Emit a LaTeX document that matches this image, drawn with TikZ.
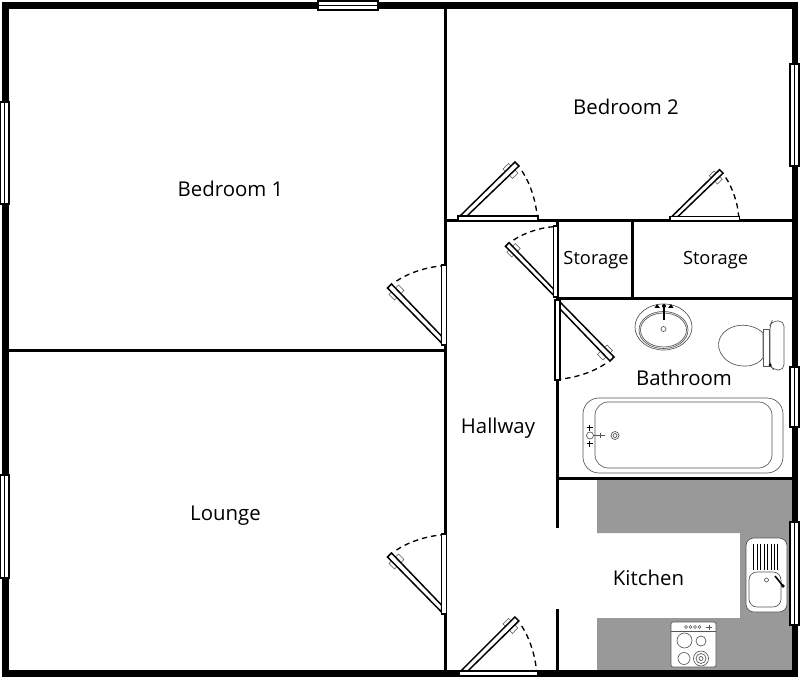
\documentclass[tikz,border=0pt]{standalone}
\usepackage{fontspec}
\setmainfont{Open Sans}
\definecolor{counter}{HTML}{999999}
\definecolor{fixture}{HTML}{555555}
\tikzset{
  x=0.75pt,y=-0.75pt,
  wall/.style={line width=2.25pt,line cap=rect},
  outerwall/.style={line width=5pt,line join=miter},
  windowbox/.style={draw=black,fill=white,line width=0.9pt},
  windowmid/.style={line width=0.6pt},
  doorpart/.style={draw=black,fill=white,line width=1.1pt},
  handle/.style={draw=fixture,fill=white,line width=0.4pt},
  swing/.style={line width=1pt,dash pattern=on 4pt off 3pt},
  fix/.style={draw=fixture,line width=0.5pt},
  fixw/.style={draw=fixture,fill=white,line width=0.5pt},
  room/.style={font=\fontsize{15.3pt}{18pt}\selectfont,inner sep=0pt,anchor=base},
  smallroom/.style={font=\fontsize{13.7pt}{17pt}\selectfont,inner sep=0pt,anchor=base},
}
% origin x, origin y, local x vector, local y vector (px)
\newcommand{\doorleaf}[6]{%
  \begin{scope}[shift={(#1,#2)},x={(#3*0.75pt,-#4*0.75pt)},y={(#5*0.75pt,-#6*0.75pt)}]
    \draw[handle] (45,52)--(50.5,57.5)--(53.5,54.5)--(48,49)--cycle;
    \draw[handle] (51.5,45.5)--(57,51)--(60,48)--(54.5,42.5)--cycle;
    \draw[doorpart] (2,5)--(9,5)--(61,55)--(57,59)--cycle;
    \draw[doorpart] (0,0) rectangle (80,5);
    \draw[swing] (64,50) .. controls (72,38) and (78,20) .. (79,5);
  \end{scope}}
\newcommand{\hwin}[3]{\draw[windowbox] (#1,#3) rectangle (#2,#3+9); \draw[windowmid] (#1,#3+4.5)--(#2,#3+4.5);}
\newcommand{\vwin}[3]{\draw[windowbox] (#3,#1) rectangle (#3+9,#2); \draw[windowmid] (#3+4.5,#1)--(#3+4.5,#2);}
\begin{document}
\begin{tikzpicture}
\useasboundingbox (0,0) rectangle (800,677);
\fill[white] (0,0) rectangle (800,677);
% kitchen worktop
\fill[counter] (597,480)--(792,480)--(792,670)--(597,670)--(597,618)--(740,618)--(740,533)--(597,533)--cycle;
% interior walls
\draw[wall] (445,8)--(445,670);
\draw[wall] (8,351)--(445,351);
\draw[wall] (445,221)--(792,221);
\draw[wall] (557,221)--(557,526);
\draw[wall] (557,610)--(557,670);
\draw[wall] (557,299)--(792,299);
\draw[wall] (557,478)--(792,478);
\draw[wall] (632.5,221)--(632.5,299);
% outer wall
\draw[outerwall] (5.3,5.5) rectangle (795,673.2);
% windows
\hwin{318}{378}{1}
\vwin{102}{204}{0}
\vwin{475}{578}{0}
\vwin{64}{166}{790}
\vwin{367}{427}{790}
\vwin{522}{625}{790}
% doors
\doorleaf{458}{221}{1}{0}{0}{-1}
\doorleaf{670}{221}{0.87}{0}{0}{-0.87}
\doorleaf{558}{297}{0}{-0.89}{-0.89}{0}
\doorleaf{555}{300}{0}{1}{1}{0}
\doorleaf{446.5}{345}{0}{-1}{-1}{0}
\doorleaf{446.5}{614}{0}{-1}{-1}{0}
\doorleaf{459}{676}{0.98}{0}{0}{-1}
% basin
\draw[fix] (663.5,327) ellipse (28.5 and 23);
\draw[fix] (663.5,330) ellipse (24.5 and 18.5);
\draw[fix] (663.5,330) ellipse (23 and 17);
\draw[fix] (663.5,329) circle (2.5);
\draw[line width=1pt] (664,306)--(664,320);
\fill (664,306) circle (2);
\fill (654.5,308)--(660,308)--(657,304)--cycle;
\fill (668,308)--(673.5,308)--(671,304)--cycle;
% toilet
\draw[fixw,rounded corners=4] (772,321)--(784,321)--(784,370)--(774,370)--(770,366)--(770,325)--cycle;
\draw[fixw] (763,329)--(769.5,329)--(769.5,366)--(763,366)--cycle;
\draw[fixw] (763,333) .. controls (752,322) and (728,322) .. (720,338) .. controls (714,350) and (726,367) .. (746,366) .. controls (754,366) and (760,362) .. (763,358) -- cycle;
\fill (770,365) circle (1.5);
% bath
\draw[fix,rounded corners=12] (583,398) rectangle (783,473);
\draw[fix,rounded corners=10] (595,402) rectangle (772,468);
\draw[line width=1.4pt] (586.5,427.5)--(592.5,427.5) (589.5,424.5)--(589.5,430.5);
\draw[line width=1.4pt] (586.5,443.5)--(592.5,443.5) (589.5,440.5)--(589.5,446.5);
\draw[fix] (590,435.5) circle (3.5);
\draw[fix] (593.5,435.5)--(605,435.5) (600,433)--(600,438);
\draw[fix] (615,435.5) circle (4) (615,435.5) circle (2);
% kitchen sink
\draw[fixw,rounded corners=6] (746,538) rectangle (787,612);
\foreach \lx in {753.5,757,760.5,764,767.5,771,774.5,777.5}{\draw[line width=0.6pt] (\lx,544)--(\lx,570);}
\draw[fix,rounded corners=6] (749,572) rectangle (781,607);
\draw[fix] (766.5,580) circle (2);
\draw[line width=1.2pt] (775,576)--(783,586);
\fill (783,586) circle (1.8);
% cooker
\draw[fixw,rounded corners=1.5] (671,622) rectangle (716,667);
\draw[fix] (671,631)--(716,631);
\foreach \kx in {686,690.5,695,699.5}{\draw[fix] (\kx,627) circle (1.5);}
\draw[fix] (706,627)--(712,627) (709,624.5)--(709,629.5);
\draw[fix] (684.5,640.5) circle (7.5);
\draw[fix] (701,641) circle (5);
\draw[fix] (684,658.5) circle (6);
\draw[fix] (701,658.5) circle (7.5) (701,658.5) circle (5) (701,658.5) circle (2);
% labels
\node[room] (bed1) at (230.5,197) {Bedroom 1};
\node[room] (bed2) at (626,114.5) {Bedroom 2};
\node[smallroom] (store1) at (596,264.5) {Storage};
\node[smallroom] (store2) at (715.5,264.5) {Storage};
\node[room] (bath) at (684,386) {Bathroom};
\node[room] (hall) at (498,433) {Hallway};
\node[room] (lounge) at (225.5,520) {Lounge};
\node[room] (kitchen) at (648.5,585) {Kitchen};
\end{tikzpicture}
\end{document}
